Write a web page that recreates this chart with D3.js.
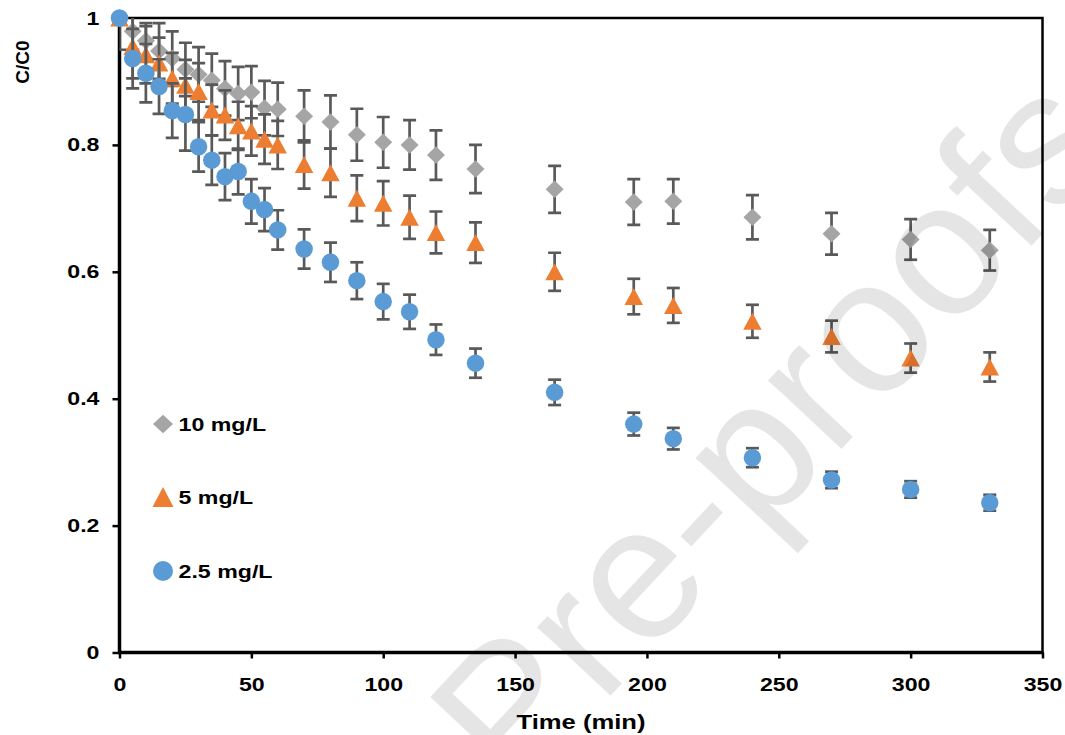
<!DOCTYPE html>
<html>
<head>
<meta charset="utf-8">
<script src="https://cdn.jsdelivr.net/npm/d3@7"></script>
<style>
  html, body { margin: 0; padding: 0; background: #fff; }
  svg { display: block; font-family: "Liberation Sans", Arial, sans-serif; }
</style>
</head>
<body>
<svg id="chart" width="1065" height="735"></svg>
<script>
// ---- data ----
const times = [0, 5, 10, 15, 20, 25, 30, 35, 40, 45, 50, 55, 60, 70, 80, 90, 100, 110, 120, 135, 165, 195, 210, 240, 270, 300, 330];

const c10 = [1.000, 0.979, 0.964, 0.948, 0.936, 0.919, 0.911, 0.902, 0.889, 0.881, 0.883, 0.858, 0.856, 0.845, 0.836, 0.816, 0.804, 0.800, 0.784, 0.762, 0.730, 0.710, 0.711, 0.686, 0.660, 0.651, 0.634];
const e10 = [0.000, 0.029, 0.028, 0.044, 0.043, 0.042, 0.043, 0.042, 0.043, 0.042, 0.041, 0.043, 0.042, 0.041, 0.042, 0.041, 0.040, 0.039, 0.039, 0.038, 0.037, 0.036, 0.035, 0.035, 0.033, 0.032, 0.032];

const c5 = [1.000, 0.955, 0.942, 0.929, 0.905, 0.894, 0.884, 0.855, 0.847, 0.830, 0.822, 0.809, 0.800, 0.769, 0.756, 0.716, 0.708, 0.686, 0.662, 0.646, 0.600, 0.561, 0.547, 0.522, 0.498, 0.464, 0.450];
const e5 = [0.050, 0.050, 0.045, 0.040, 0.040, 0.040, 0.045, 0.040, 0.039, 0.038, 0.039, 0.039, 0.038, 0.038, 0.038, 0.036, 0.035, 0.034, 0.033, 0.032, 0.030, 0.028, 0.0275, 0.026, 0.025, 0.023, 0.023];

const c25 = [1.000, 0.936, 0.913, 0.892, 0.854, 0.848, 0.797, 0.776, 0.750, 0.758, 0.711, 0.698, 0.666, 0.636, 0.615, 0.586, 0.553, 0.537, 0.493, 0.456, 0.410, 0.360, 0.337, 0.307, 0.272, 0.257, 0.236];
const e25 = [0.000, 0.047, 0.046, 0.043, 0.043, 0.057, 0.039, 0.039, 0.037, 0.036, 0.035, 0.034, 0.031, 0.031, 0.031, 0.029, 0.028, 0.027, 0.024, 0.023, 0.020, 0.018, 0.017, 0.015, 0.013, 0.013, 0.0126];

const seriesNames = ["10 mg/L", "5 mg/L", "2.5 mg/L"];
const xTicks = [0, 50, 100, 150, 200, 250, 300, 350];
const yTicks = [0, 0.2, 0.4, 0.6, 0.8, 1];
const xTitle = "Time (min)";
const yTitle = "C/C0";
const watermark = "Pre-proofs";

// ---- layout ----
const W = 1065, H = 735;
const plot = { left: 119.5, right: 1042.5, top: 18, bottom: 652.5 };
const SX = 1.22; // horizontal stretch of the reference lettering

const svg = d3.select("#chart");
const x = d3.scaleLinear().domain([0, 350]).range([plot.left, plot.right]);
const y = d3.scaleLinear().domain([0, 1]).range([plot.bottom, plot.top]);

const series = [
  { name: seriesNames[0], vals: c10, errs: e10, shape: "diamond", color: "#A5A5A5" },
  { name: seriesNames[1], vals: c5, errs: e5, shape: "triangle", color: "#ED7D31" },
  { name: seriesNames[2], vals: c25, errs: e25, shape: "circle", color: "#5B9BD5" }
];

function markerPath(shape, w, h) {
  if (shape === "diamond") return `M0,${-h/2}L${w/2},0L0,${h/2}L${-w/2},0Z`;
  if (shape === "triangle") return `M0,${-h/2}L${w/2},${h/2}L${-w/2},${h/2}Z`;
  const r = w / 2;
  return `M${-r},0A${r},${r} 0 1,0 ${r},0A${r},${r} 0 1,0 ${-r},0Z`;
}
const markerSize = { diamond: [18, 17.5], triangle: [18.5, 17], circle: [17.5, 17.5] };
const legendSize = { diamond: [20, 18.5], triangle: [21, 20], circle: [20, 20] };

svg.append("rect").attr("width", W).attr("height", H).attr("fill", "#fff");

svg.append("defs").append("clipPath").attr("id", "plotclip")
  .append("rect").attr("x", plot.left).attr("y", plot.top)
  .attr("width", plot.right - plot.left).attr("height", plot.bottom - plot.top);

// plot frame
svg.append("rect")
  .attr("x", plot.left).attr("y", plot.top)
  .attr("width", plot.right - plot.left).attr("height", plot.bottom - plot.top)
  .attr("fill", "none").attr("stroke", "#000").attr("stroke-width", 2.5);

// ---- axes ----
const yAxis = d3.axisLeft(y).tickValues(yTicks).tickSize(7).tickPadding(13)
  .tickFormat(d => (d === 0 || d === 1) ? String(d) : d3.format(".1f")(d));
const gy = svg.append("g").attr("transform", `translate(${plot.left},0)`).call(yAxis);
gy.select(".domain").remove();
gy.selectAll(".tick line").attr("stroke", "#000").attr("stroke-width", 2.5);
gy.selectAll(".tick text")
  .attr("font-size", 19).attr("font-weight", "bold").attr("fill", "#000")
  .attr("font-family", "'Liberation Sans', Arial, sans-serif")
  .attr("transform", function () {
    const tx = +d3.select(this).attr("x");
    return `translate(${tx},0) scale(${SX},1) translate(${-tx},0)`;
  });

const xAxis = d3.axisBottom(x).tickValues(xTicks).tickSize(6).tickPadding(19);
const gx = svg.append("g").attr("transform", `translate(0,${plot.bottom})`).call(xAxis);
gx.select(".domain").remove();
gx.selectAll(".tick line").attr("stroke", "#000").attr("stroke-width", 2.5);
gx.selectAll(".tick text")
  .attr("font-size", 19).attr("font-weight", "bold").attr("fill", "#000")
  .attr("font-family", "'Liberation Sans', Arial, sans-serif")
  .attr("transform", `scale(${SX},1)`);

// thick axis lines
svg.append("line").attr("x1", plot.left).attr("x2", plot.left)
  .attr("y1", plot.top - 1).attr("y2", plot.bottom + 1.5)
  .attr("stroke", "#000").attr("stroke-width", 3.5);
svg.append("line").attr("x1", plot.left - 1.5).attr("x2", plot.right + 1)
  .attr("y1", plot.bottom).attr("y2", plot.bottom)
  .attr("stroke", "#000").attr("stroke-width", 3.5);

// axis titles
svg.append("text")
  .attr("transform", `translate(581,729) scale(${SX},1)`)
  .attr("text-anchor", "middle")
  .attr("font-size", 21).attr("font-weight", "bold").attr("fill", "#000")
  .text(xTitle);
svg.append("text")
  .attr("transform", `translate(29,62) rotate(-90)`)
  .attr("text-anchor", "middle")
  .attr("font-size", 19).attr("font-weight", "bold").attr("fill", "#000")
  .text(yTitle);

// ---- data ----
const capHalf = 6.5;
series.forEach(s => {
  const g = svg.append("g");
  const pts = times.map((t, i) => ({ t, v: s.vals[i], e: s.errs[i] }));
  const eb = g.append("g").attr("clip-path", "url(#plotclip)")
    .attr("stroke", "#595959").attr("stroke-width", 2.7).attr("fill", "none");
  pts.filter(p => p.e > 0).forEach(p => {
    const cx = x(p.t), y1 = y(p.v + p.e), y2 = y(p.v - p.e);
    eb.append("line").attr("x1", cx).attr("x2", cx).attr("y1", y1).attr("y2", y2);
    eb.append("line").attr("x1", cx - capHalf).attr("x2", cx + capHalf).attr("y1", y1).attr("y2", y1);
    eb.append("line").attr("x1", cx - capHalf).attr("x2", cx + capHalf).attr("y1", y2).attr("y2", y2);
  });
  const [mw, mh] = markerSize[s.shape];
  g.selectAll("path.mk").data(pts).join("path").attr("class", "mk")
    .attr("d", markerPath(s.shape, mw, mh))
    .attr("transform", p => `translate(${x(p.t)},${y(p.v)})`)
    .attr("fill", s.color);
});

// ---- legend ----
const legendY = [424, 497, 571];
const legend = svg.append("g");
series.forEach((s, i) => {
  const [lw, lh] = legendSize[s.shape];
  legend.append("path").attr("d", markerPath(s.shape, lw, lh))
    .attr("transform", `translate(163,${legendY[i]})`).attr("fill", s.color);
  legend.append("text")
    .attr("transform", `translate(178.5,${legendY[i] + 7}) scale(${SX},1)`)
    .attr("font-size", 19).attr("font-weight", "bold").attr("fill", "#000")
    .text(s.name);
});

// ---- watermark ----
svg.append("text")
  .attr("transform", "translate(818,474) rotate(-46.9)")
  .attr("text-anchor", "middle")
  .attr("font-size", 190).attr("fill", "#000").attr("fill-opacity", 0.1)
  .attr("pointer-events", "none")
  .text(watermark);
</script>
</body>
</html>
